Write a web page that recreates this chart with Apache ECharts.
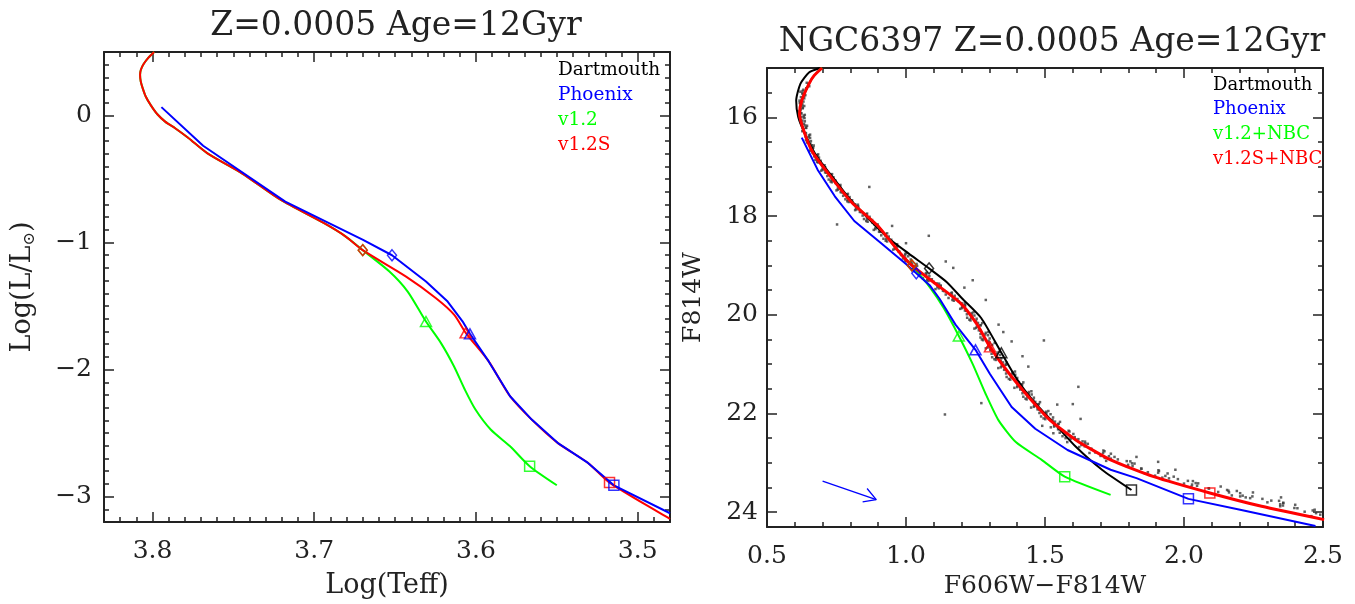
<!DOCTYPE html>
<html>
<head>
<meta charset="utf-8">
<title>Isochrones NGC6397</title>
<script src="https://cdn.jsdelivr.net/npm/echarts@6/dist/echarts.min.js"></script>
<style>
html, body { margin: 0; padding: 0; background: #fff; }
#chart { width: 1355px; height: 604px; }
</style>
</head>
<body>
<div id="chart"></div>
<script>
// ---- left panel: Log(Teff) vs Log(L/Lsun) ----
const hrPhoenix = [[3.7945, 0.066], [3.7687, -0.238], [3.7179, -0.678], [3.6698, -0.979], [3.6519, -1.100], [3.6309, -1.307], [3.6175, -1.465], [3.6083, -1.620], [3.6037, -1.719], [3.5922, -1.934], [3.5789, -2.210], [3.5655, -2.394], [3.5495, -2.577], [3.5307, -2.735], [3.5147, -2.911], [3.4800, -3.131]];
const hrV12S = [[3.7990, 0.500], [3.8025, 0.455], [3.8055, 0.405], [3.8072, 0.360], [3.8077, 0.320], [3.8073, 0.270], [3.8062, 0.220], [3.8042, 0.150], [3.8010, 0.080], [3.7970, 0.010], [3.7920, -0.050], [3.7860, -0.100], [3.7780, -0.175], [3.7660, -0.298], [3.7447, -0.455], [3.7206, -0.665], [3.6939, -0.848], [3.6805, -0.953], [3.6700, -1.060], [3.6432, -1.268], [3.6247, -1.438], [3.6134, -1.569], [3.6062, -1.713], [3.5922, -1.934], [3.5789, -2.210], [3.5655, -2.394], [3.5495, -2.577], [3.5307, -2.735], [3.5174, -2.890], [3.4800, -3.175]];
const hrV12 = [[3.7990, 0.500], [3.8025, 0.455], [3.8055, 0.405], [3.8072, 0.360], [3.8077, 0.320], [3.8073, 0.270], [3.8062, 0.220], [3.8042, 0.150], [3.8010, 0.080], [3.7970, 0.010], [3.7920, -0.050], [3.7860, -0.100], [3.7780, -0.175], [3.7660, -0.298], [3.7447, -0.455], [3.7206, -0.665], [3.6939, -0.848], [3.6805, -0.953], [3.6700, -1.060], [3.6535, -1.228], [3.6422, -1.386], [3.6309, -1.622], [3.6217, -1.790], [3.6136, -1.974], [3.6069, -2.157], [3.6003, -2.315], [3.5909, -2.472], [3.5789, -2.604], [3.5668, -2.761], [3.5500, -2.911]];
// diamond, triangle, square
const hrPhoenixMarks = [[3.6519, -1.100], [3.6037, -1.719], [3.5147, -2.911]];
const hrV12SMarks = [[3.6700, -1.060], [3.6064, -1.711], [3.5174, -2.890]];
const hrV12Marks = [[3.6700, -1.060], [3.6309, -1.622], [3.5668, -2.761]];

// ---- right panel: F606W-F814W vs F814W ----
const cmdDartmouth = [[0.690, 15.00], [0.651, 15.09], [0.620, 15.32], [0.605, 15.66], [0.612, 15.99], [0.636, 16.33], [0.680, 16.80], [0.735, 17.20], [0.790, 17.60], [0.868, 18.07], [0.937, 18.45], [1.010, 18.76], [1.083, 19.06], [1.147, 19.34], [1.202, 19.67], [1.271, 20.07], [1.343, 20.77], [1.395, 21.27], [1.457, 21.74], [1.535, 22.21], [1.612, 22.68], [1.705, 23.14], [1.811, 23.55]];
const cmdPhoenix = [[0.625, 16.41], [0.682, 17.06], [0.744, 17.60], [0.814, 18.10], [0.915, 18.57], [1.000, 18.97], [1.037, 19.16], [1.085, 19.40], [1.120, 19.67], [1.178, 20.20], [1.250, 20.71], [1.302, 21.20], [1.380, 21.87], [1.465, 22.31], [1.581, 22.74], [1.736, 23.14], [1.829, 23.31], [2.016, 23.73], [2.202, 23.95], [2.473, 24.28]];
const cmdV12NBC = [[0.698, 15.00], [0.670, 15.15], [0.651, 15.32], [0.625, 15.66], [0.617, 15.93], [0.636, 16.33], [0.667, 16.73], [0.729, 17.20], [0.806, 17.73], [0.899, 18.20], [0.977, 18.74], [1.021, 19.00], [1.088, 19.46], [1.135, 19.86], [1.190, 20.43], [1.240, 21.00], [1.287, 21.61], [1.333, 22.14], [1.395, 22.58], [1.488, 22.94], [1.571, 23.28], [1.736, 23.65]];
const cmdV12SNBC = [[0.698, 15.00], [0.670, 15.15], [0.651, 15.32], [0.625, 15.66], [0.617, 15.93], [0.636, 16.33], [0.667, 16.73], [0.729, 17.20], [0.806, 17.73], [0.899, 18.20], [0.977, 18.74], [1.021, 19.00], [1.099, 19.34], [1.195, 19.76], [1.255, 20.19], [1.302, 20.65], [1.364, 21.14], [1.442, 21.67], [1.519, 22.14], [1.612, 22.54], [1.736, 22.94], [1.891, 23.28], [2.093, 23.61], [2.279, 23.88], [2.504, 24.15]];
const cmdDartmouthMarks = [[1.083, 19.06], [1.343, 20.77], [1.811, 23.55]];
const cmdPhoenixMarks = [[1.037, 19.16], [1.250, 20.71], [2.016, 23.73]];
const cmdV12NBCMarks = [[1.021, 19.00], [1.190, 20.43], [1.571, 23.28]];
const cmdV12SNBCMarks = [[1.021, 19.00], [1.302, 20.65], [2.093, 23.61]];
const reddeningArrow = [[0.700, 23.37], [0.893, 23.745]];
const reddeningHead = [[0.860, 23.52], [0.893, 23.745], [0.844, 23.79]];

// NGC6397 photometry (colour, F814W)
const ngcStars = [
  [0.643, 15.30], [0.649, 15.33], [0.652, 15.37], [0.642, 15.41], [0.631, 15.44], [0.620, 15.48],
  [0.629, 15.52], [0.638, 15.55], [0.622, 15.59], [0.630, 15.60], [0.617, 15.66], [0.631, 15.68],
  [0.618, 15.70], [0.627, 15.73], [0.634, 15.77], [0.629, 15.81], [0.621, 15.84], [0.614, 15.88],
  [0.624, 15.92], [0.636, 15.95], [0.622, 15.99], [0.631, 16.00], [0.619, 16.06], [0.636, 16.08],
  [0.622, 16.10], [0.633, 16.13], [0.644, 16.17], [0.641, 16.21], [0.632, 16.24], [0.627, 16.28],
  [0.640, 16.32], [0.655, 16.35], [0.639, 16.39], [0.650, 16.40], [0.640, 16.46], [0.658, 16.48],
  [0.644, 16.50], [0.656, 16.53], [0.668, 16.57], [0.666, 16.61], [0.658, 16.64], [0.653, 16.68],
  [0.668, 16.72], [0.684, 16.75], [0.670, 16.79], [0.681, 16.80], [0.674, 16.86], [0.693, 16.88],
  [0.680, 16.90], [0.694, 16.93], [0.707, 16.97], [0.709, 17.01], [0.700, 17.04], [0.695, 17.08],
  [0.713, 17.12], [0.734, 17.15], [0.717, 17.19], [0.731, 17.20], [0.722, 17.26], [0.746, 17.28],
  [0.729, 17.30], [0.747, 17.33], [0.764, 17.37], [0.763, 17.41], [0.755, 17.44], [0.750, 17.48],
  [0.769, 17.52], [0.791, 17.55], [0.774, 17.59], [0.789, 17.60], [0.782, 17.66], [0.806, 17.68],
  [0.789, 17.70], [0.808, 17.73], [0.827, 17.77], [0.828, 17.81], [0.820, 17.84], [0.817, 17.88],
  [0.838, 17.92], [0.860, 17.95], [0.844, 17.99], [0.858, 18.00], [0.849, 18.06], [0.878, 18.08],
  [0.857, 18.10], [0.879, 18.13], [0.898, 18.17], [0.899, 18.21], [0.890, 18.24], [0.884, 18.28],
  [0.906, 18.32], [0.932, 18.35], [0.911, 18.39], [0.927, 18.40], [0.919, 18.46], [0.947, 18.48],
  [0.927, 18.50], [0.949, 18.53], [0.968, 18.57], [0.969, 18.61], [0.960, 18.64], [0.954, 18.68],
  [0.976, 18.72], [1.002, 18.75], [0.982, 18.79], [0.997, 18.80], [0.989, 18.86], [1.017, 18.88],
  [0.997, 18.90], [1.019, 18.93], [1.038, 18.97], [1.040, 19.01], [1.029, 19.04], [1.022, 19.08],
  [1.046, 19.12], [1.074, 19.15], [1.050, 19.19], [1.073, 19.20], [1.061, 19.26], [1.093, 19.28],
  [1.076, 19.30], [1.099, 19.33], [1.119, 19.37], [1.125, 19.41], [1.113, 19.44], [1.106, 19.48],
  [1.138, 19.52], [1.165, 19.55], [1.143, 19.59], [1.164, 19.60], [1.153, 19.66], [1.185, 19.68],
  [1.167, 19.70], [1.190, 19.73], [1.211, 19.77], [1.213, 19.81], [1.202, 19.84], [1.195, 19.88],
  [1.217, 19.92], [1.243, 19.95], [1.219, 19.99], [1.236, 20.00], [1.220, 20.06], [1.254, 20.08],
  [1.228, 20.10], [1.252, 20.13], [1.274, 20.17], [1.269, 20.21], [1.255, 20.24], [1.246, 20.28],
  [1.268, 20.32], [1.296, 20.35], [1.268, 20.39], [1.285, 20.40], [1.268, 20.46], [1.301, 20.48],
  [1.273, 20.50], [1.297, 20.53], [1.319, 20.57], [1.310, 20.61], [1.296, 20.64], [1.287, 20.68],
  [1.308, 20.72], [1.336, 20.75], [1.308, 20.79], [1.327, 20.80], [1.310, 20.86], [1.343, 20.88],
  [1.318, 20.90], [1.341, 20.93], [1.362, 20.97], [1.360, 21.01], [1.344, 21.04], [1.332, 21.08],
  [1.360, 21.12], [1.392, 21.15], [1.360, 21.19], [1.382, 21.20], [1.362, 21.26], [1.400, 21.28],
  [1.370, 21.30], [1.398, 21.33], [1.422, 21.37], [1.418, 21.41], [1.401, 21.44], [1.390, 21.48],
  [1.418, 21.52], [1.451, 21.55], [1.419, 21.59], [1.441, 21.60], [1.422, 21.66], [1.460, 21.68],
  [1.430, 21.70], [1.458, 21.73], [1.482, 21.77], [1.478, 21.81], [1.461, 21.84], [1.450, 21.88],
  [1.478, 21.92], [1.512, 21.95], [1.480, 21.99], [1.505, 22.00], [1.486, 22.06], [1.529, 22.08],
  [1.495, 22.10], [1.527, 22.13], [1.554, 22.17], [1.549, 22.21], [1.533, 22.24], [1.521, 22.28],
  [1.547, 22.32], [1.585, 22.35], [1.553, 22.39], [1.578, 22.40], [1.563, 22.46], [1.607, 22.48],
  [1.574, 22.50], [1.611, 22.53], [1.644, 22.57], [1.645, 22.61], [1.631, 22.64], [1.623, 22.68],
  [1.665, 22.72], [1.710, 22.75], [1.681, 22.79], [1.709, 22.80], [1.700, 22.86], [1.750, 22.88],
  [1.715, 22.90], [1.762, 22.93], [1.807, 22.97], [1.813, 23.01], [1.799, 23.04], [1.795, 23.08],
  [1.847, 23.12], [1.908, 23.15], [1.870, 23.19], [1.907, 23.20], [1.896, 23.26], [1.963, 23.28],
  [1.922, 23.30], [1.978, 23.33], [2.032, 23.37], [2.042, 23.41], [2.029, 23.44], [2.027, 23.48],
  [2.090, 23.52], [2.155, 23.55], [2.123, 23.59], [2.162, 23.60], [2.172, 23.66], [2.246, 23.68],
  [2.222, 23.70], [2.282, 23.73], [2.342, 23.77], [2.357, 23.81], [2.346, 23.84], [2.346, 23.88],
  [2.408, 23.92], [2.470, 23.95], [2.434, 23.99], [2.475, 24.02], [2.490, 24.05], [2.458, 24.08],
  [0.641, 15.415], [0.628, 15.465], [0.627, 15.515], [0.634, 15.565], [0.634, 15.615], [0.623, 15.665],
  [0.619, 15.715], [0.626, 15.765], [0.628, 15.815], [0.619, 15.865], [0.622, 15.915], [0.632, 15.965],
  [0.635, 16.015], [0.627, 16.065], [0.624, 16.115], [0.637, 16.165], [0.640, 16.215], [0.632, 16.265],
  [0.637, 16.315], [0.651, 16.365], [0.655, 16.415], [0.648, 16.465], [0.646, 16.515], [0.661, 16.565],
  [0.665, 16.615], [0.658, 16.665], [0.664, 16.715], [0.681, 16.765], [0.687, 16.815], [0.682, 16.865],
  [0.683, 16.915], [0.700, 16.965], [0.708, 17.015], [0.700, 17.065], [0.709, 17.115], [0.730, 17.165],
  [0.739, 17.215], [0.732, 17.265], [0.733, 17.315], [0.754, 17.365], [0.762, 17.415], [0.755, 17.465],
  [0.765, 17.515], [0.787, 17.565], [0.797, 17.615], [0.791, 17.665], [0.794, 17.715], [0.817, 17.765],
  [0.827, 17.815], [0.822, 17.865], [0.834, 17.915], [0.857, 17.965], [0.869, 18.015], [0.860, 18.065],
  [0.862, 18.115], [0.886, 18.165], [0.898, 18.215], [0.890, 18.265], [0.903, 18.315], [0.927, 18.365],
  [0.938, 18.415], [0.929, 18.465], [0.932, 18.515], [0.956, 18.565], [0.968, 18.615], [0.960, 18.665],
  [0.973, 18.715], [0.997, 18.765], [1.008, 18.815], [0.999, 18.865], [1.001, 18.915], [1.022, 18.965],
  [1.032, 19.015], [1.026, 19.065], [1.041, 19.115], [1.071, 19.165], [1.084, 19.215], [1.078, 19.265],
  [1.081, 19.315], [1.111, 19.365], [1.124, 19.415], [1.118, 19.465], [1.133, 19.515], [1.163, 19.565],
  [1.175, 19.615], [1.169, 19.665], [1.172, 19.715], [1.200, 19.765], [1.211, 19.815], [1.201, 19.865],
  [1.212, 19.915], [1.236, 19.965], [1.246, 20.015], [1.234, 20.065], [1.232, 20.115], [1.259, 20.165],
  [1.267, 20.215], [1.252, 20.265], [1.262, 20.315], [1.287, 20.365], [1.295, 20.415], [1.280, 20.465],
  [1.277, 20.515], [1.301, 20.565], [1.308, 20.615], [1.293, 20.665], [1.303, 20.715], [1.329, 20.765],
  [1.338, 20.815], [1.325, 20.865], [1.323, 20.915], [1.349, 20.965], [1.358, 21.015], [1.341, 21.065],
  [1.353, 21.115], [1.383, 21.165], [1.393, 21.215], [1.378, 21.265], [1.375, 21.315], [1.406, 21.365],
  [1.415, 21.415], [1.400, 21.465], [1.411, 21.515], [1.442, 21.565], [1.452, 21.615], [1.437, 21.665],
  [1.434, 21.715], [1.465, 21.765], [1.475, 21.815], [1.460, 21.865], [1.473, 21.915], [1.504, 21.965],
  [1.520, 22.015], [1.503, 22.065], [1.501, 22.115], [1.536, 22.165], [1.547, 22.215], [1.533, 22.265],
  [1.551, 22.315], [1.588, 22.365], [1.602, 22.415], [1.590, 22.465], [1.592, 22.515], [1.635, 22.565],
  [1.654, 22.615], [1.643, 22.665], [1.667, 22.715], [1.714, 22.765], [1.737, 22.815], [1.730, 22.865],
  [1.737, 22.915], [1.794, 22.965], [1.822, 23.015], [1.815, 23.065], [1.846, 23.115], [1.910, 23.165],
  [1.941, 23.215], [1.933, 23.265], [1.946, 23.315], [2.014, 23.365], [2.051, 23.415], [2.047, 23.465],
  [2.089, 23.515], [2.160, 23.565], [2.202, 23.615], [2.211, 23.665], [2.238, 23.715], [2.314, 23.765],
  [2.357, 23.815], [2.356, 23.865], [2.397, 23.915], [2.463, 23.965],
  [1.907, 22.98], [1.969, 23.14], [1.829, 22.88], [2.132, 23.48], [2.202, 23.68], [2.248, 23.60],
  [2.349, 23.70], [1.720, 22.96], [1.860, 23.22], [2.000, 23.42], [2.190, 23.57], [2.300, 23.80],
  [2.400, 23.85], [1.660, 22.80], [1.580, 22.58], [1.530, 22.40], [1.490, 22.25], [1.620, 22.52],
  [0.868, 17.41], [0.752, 18.17], [1.082, 18.40], [1.143, 18.92], [1.240, 19.30], [1.496, 20.52],
  [1.620, 21.46], [1.271, 21.79], [1.140, 22.02], [1.544, 21.82], [1.600, 21.81], [1.628, 22.11],
  [1.333, 20.20], [1.380, 20.54], [1.287, 19.70], [1.419, 20.84], [1.170, 19.05], [1.210, 19.45],
  [1.350, 20.35], [1.440, 21.05], [1.000, 18.55], [0.950, 18.20]
];

const hrXTicks = [3.5, 3.6, 3.7, 3.8];
const hrYTicks = [-3, -2, -1, 0];
const cmdXTicks = [0.5, 1.0, 1.5, 2.0, 2.5];
const cmdYTicks = [16, 18, 20, 22, 24];
const legendLeft = ['Dartmouth', 'Phoenix', 'v1.2', 'v1.2S'];
const legendRight = ['Dartmouth', 'Phoenix', 'v1.2+NBC', 'v1.2S+NBC'];
const legendColors = ['#000000', '#0000ff', '#00ff00', '#ff0000'];

const INK = '#222222';
const SERIF = '"DejaVu Serif", serif';
const SHAPES = ['diamond', 'triangle', 'rect'];
const SHAPE_SIZE = [[9, 11], [11, 10], [10, 10]];

function sideAxes(gridIndex, dim, o) {
  const sides = dim === 'x' ? ['bottom', 'top'] : ['left', 'right'];
  const list = [];
  sides.forEach(function (side, k) {
    const main = k === 0;
    list.push({
      type: 'value', gridIndex: gridIndex, position: side,
      min: o.min, max: o.max, inverse: o.inverse,
      name: main ? o.name : '', nameLocation: 'middle', nameGap: o.nameGap,
      nameTextStyle: { fontFamily: SERIF, fontSize: o.nameSize, color: INK, rich: o.rich },
      axisLine: { show: true, onZero: false, lineStyle: { color: INK, width: 2 } },
      axisTick: { show: true, inside: true, length: 10, customValues: o.majors, lineStyle: { color: INK, width: 1.5 } },
      axisLabel: { show: main, customValues: o.majors, margin: o.margin, formatter: o.fmt, fontFamily: SERIF, fontSize: 25, color: INK },
      splitLine: { show: false }
    });
    // minor ticks
    list.push({
      type: 'value', gridIndex: gridIndex, position: side,
      min: o.min, max: o.max, inverse: o.inverse, interval: o.minor,
      axisLine: { show: false, onZero: false },
      axisTick: { show: true, inside: true, length: 5, lineStyle: { color: INK, width: 1.5 } },
      axisLabel: { show: false },
      splitLine: { show: false }
    });
  });
  return list;
}

function curve(data, color, width, xi, yi, smooth, z) {
  return {
    type: 'line', xAxisIndex: xi, yAxisIndex: yi, data: data,
    symbol: 'none', showSymbol: false, smooth: smooth || 0,
    lineStyle: { color: color, width: width }, z: z || 2, silent: true
  };
}

function marks(data, color, xi, yi) {
  return {
    type: 'scatter', xAxisIndex: xi, yAxisIndex: yi,
    data: data.map(function (p, i) { return { value: p, symbol: SHAPES[i], symbolSize: SHAPE_SIZE[i] }; }),
    itemStyle: { color: 'rgba(0,0,0,0)', borderColor: color, borderWidth: 1.5 },
    z: 6, silent: true
  };
}

const minus = function (v) { return String(v).replace('-', '\u2212'); };

const chart = echarts.init(document.getElementById('chart'));
chart.setOption({
  animation: false,
  backgroundColor: '#ffffff',
  grid: [
    { left: 104, top: 52, width: 566, height: 470 },
    { left: 767, top: 68, width: 556, height: 463 }
  ],
  xAxis: [].concat(
    sideAxes(0, 'x', { min: 3.48, max: 3.83, inverse: true, majors: hrXTicks, minor: 0.01, name: 'Log(Teff)', nameGap: 50, nameSize: 27, margin: 17, fmt: function (v) { return v.toFixed(1); } }),
    sideAxes(1, 'x', { min: 0.5, max: 2.5, inverse: false, majors: cmdXTicks, minor: 0.1, name: 'F606W\u2212F814W', nameGap: 47, nameSize: 25, margin: 17, fmt: function (v) { return v.toFixed(1); } })
  ),
  yAxis: [].concat(
    sideAxes(0, 'y', { min: -3.2, max: 0.5, inverse: false, majors: hrYTicks, minor: 0.1, name: 'Log(L/L{s|\u2299})', nameGap: 66, nameSize: 27, margin: 12, fmt: minus,
      rich: { s: { fontFamily: SERIF, fontSize: 16, color: INK, verticalAlign: 'top', padding: [14, 0, 0, 0] } } }),
    sideAxes(1, 'y', { min: 15, max: 24.3, inverse: true, majors: cmdYTicks, minor: 0.5, name: 'F814W', nameGap: 61, nameSize: 25, margin: 9, fmt: minus })
  ),
  graphic: [
    { type: 'text', x: 396, y: 26, style: { text: 'Z=0.0005 Age=12Gyr', fill: INK, font: '33px "DejaVu Serif"', textAlign: 'center', textVerticalAlign: 'middle' } },
    { type: 'text', x: 1052, y: 42, style: { text: 'NGC6397 Z=0.0005 Age=12Gyr', fill: INK, font: '33px "DejaVu Serif"', textAlign: 'center', textVerticalAlign: 'middle' } }
  ].concat(
    legendLeft.map(function (t, i) {
      return { type: 'text', x: 558, y: 70 + i * 25, style: { text: t, fill: legendColors[i], font: '18.5px "DejaVu Serif"', textAlign: 'left', textVerticalAlign: 'middle' } };
    }),
    legendRight.map(function (t, i) {
      return { type: 'text', x: 1213, y: 85 + i * 24.7, style: { text: t, fill: legendColors[i], font: '18px "DejaVu Serif"', textAlign: 'left', textVerticalAlign: 'middle' } };
    })
  ),
  series: [
    curve(hrV12, '#00ff00', 2, 0, 0, 0.25, 2),
    curve(hrV12S, '#ff0000', 2, 0, 0, 0.25, 3),
    curve(hrPhoenix, '#0000ff', 2, 0, 0, 0, 4),
    marks(hrV12Marks, '#00ff00', 0, 0),
    marks(hrV12SMarks, '#ff0000', 0, 0),
    marks(hrPhoenixMarks, '#0000ff', 0, 0),
    {
      type: 'scatter', xAxisIndex: 4, yAxisIndex: 4, data: ngcStars,
      symbol: 'rect', symbolSize: 2.5, itemStyle: { color: '#3a3a3a' }, z: 1, silent: true
    },
    curve(cmdDartmouth, '#000000', 2, 4, 4, 0.2, 2),
    curve(cmdV12NBC, '#00ff00', 2, 4, 4, 0.2, 3),
    curve(cmdPhoenix, '#0000ff', 2, 4, 4, 0, 3),
    curve(cmdV12SNBC, '#ff0000', 3, 4, 4, 0.2, 4),
    curve(reddeningArrow, '#0000ff', 1.3, 4, 4, 0, 4),
    curve(reddeningHead, '#0000ff', 1.3, 4, 4, 0, 4),
    marks(cmdDartmouthMarks, '#000000', 4, 4),
    marks(cmdV12NBCMarks, '#00ff00', 4, 4),
    marks(cmdPhoenixMarks, '#0000ff', 4, 4),
    marks(cmdV12SNBCMarks, '#ff0000', 4, 4)
  ]
});
</script>
</body>
</html>
